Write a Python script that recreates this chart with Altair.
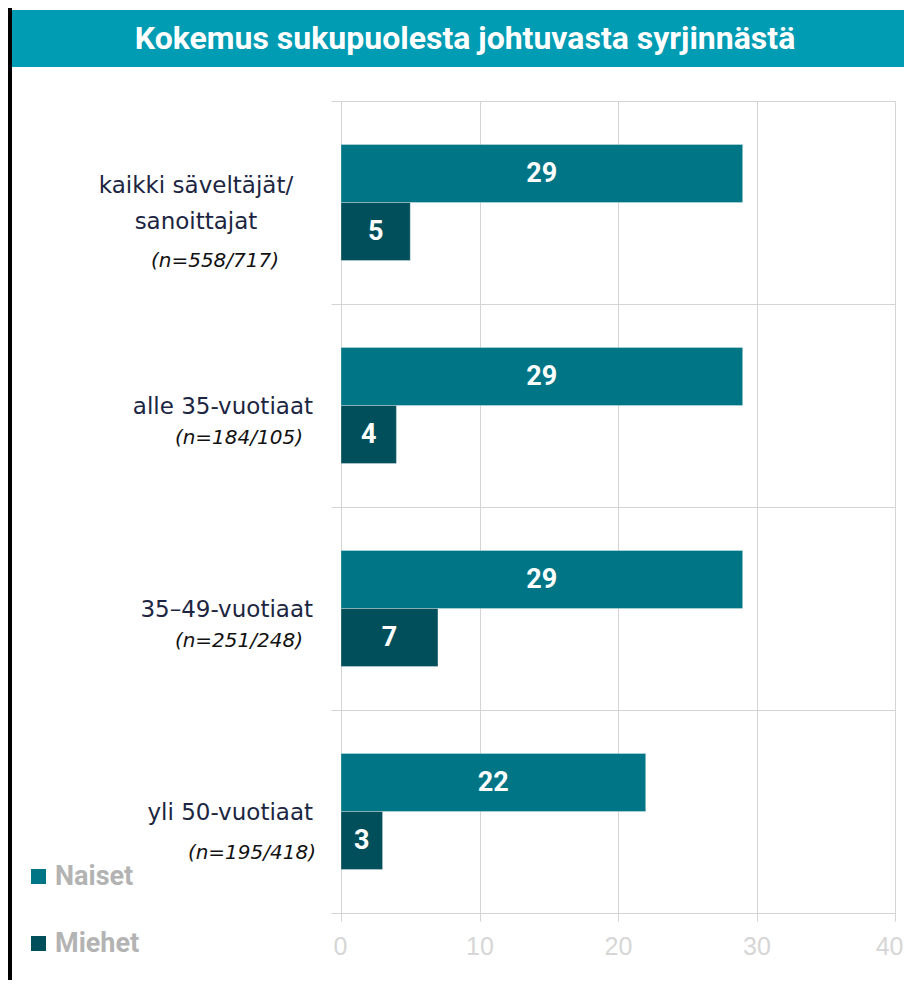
import altair as alt
import pandas as pd

title_text = "Kokemus sukupuolesta johtuvasta syrjinnästä"
categories = ["kaikki", "alle35", "35-49", "yli50"]
main_labels = [["kaikki säveltäjät/", "sanoittajat"], ["alle 35-vuotiaat"], ["35–49-vuotiaat"], ["yli 50-vuotiaat"]]
n_labels = ["(n=558/717)", "(n=184/105)", "(n=251/248)", "(n=195/418)"]
series = ["Naiset", "Miehet"]
naiset = [29, 29, 29, 22]
miehet = [5, 4, 7, 3]
x_ticks = [0, 10, 20, 30, 40]

colors = ["#007585", "#004f5a"]
TEAL = "#009cb4"
FONT = "Roboto"
LABFONT = "DejaVu Sans"

rows = []
for i, c in enumerate(categories):
    rows.append({"cat": c, "sukupuoli": "Naiset", "arvo": naiset[i]})
    rows.append({"cat": c, "sukupuoli": "Miehet", "arvo": miehet[i]})
df = pd.DataFrame(rows)

lab = pd.DataFrame({"cat": categories, "main": main_labels, "n": n_labels, "i": list(range(len(categories)))})

y_scale = alt.Scale(domain=categories, paddingInner=0, paddingOuter=0)
x_scale = alt.Scale(domain=[0, 40], nice=False)
yoff_scale = alt.Scale(domain=series, paddingInner=0, paddingOuter=0.75)

base = alt.Chart(df)

bars = base.mark_bar(stroke="white", strokeOpacity=0.3, strokeWidth=1).encode(
    x=alt.X("arvo:Q", scale=x_scale, axis=alt.Axis(
        values=x_ticks, title=None, grid=True, gridColor="#d4d4d4", domainColor="#d4d4d4",
        tickColor="#d4d4d4", tickSize=8, labelColor="#d6d6d6", labelFontSize=25,
        labelFont="Liberation Sans", labelPadding=13, labelFlush=True, labelFlushOffset=8)),
    y=alt.Y("cat:N", scale=y_scale, sort=categories, axis=alt.Axis(
        labels=False, title=None, tickBand="extent", grid=True, gridColor="#d4d4d4",
        domainColor="#d4d4d4", tickColor="#d4d4d4", tickSize=10)),
    yOffset=alt.YOffset("sukupuoli:N", scale=yoff_scale, sort=series),
    color=alt.Color("sukupuoli:N", sort=series, scale=alt.Scale(domain=series, range=colors),
                    legend=alt.Legend(orient="none", legendX=-316, legendY=762, title=None,
                                      symbolType="square", symbolSize=225, symbolStrokeWidth=0,
                                      labelFont=FONT, labelFontWeight="bold", labelFontSize=27,
                                      labelColor="#b3b3b3", rowPadding=39, labelOffset=3, padding=0)),
)

values = base.transform_calculate(mid="datum.arvo / 2").mark_text(
    color="white", font=FONT, fontWeight="bold", fontSize=27, baseline="middle", align="center"
).encode(
    x=alt.X("mid:Q", scale=x_scale),
    y=alt.Y("cat:N", scale=y_scale, sort=categories),
    yOffset=alt.YOffset("sukupuoli:N", scale=yoff_scale, sort=series),
    text=alt.Text("arvo:Q"),
)

lb = alt.Chart(lab)
ycat = alt.Y("cat:N", scale=y_scale, sort=categories)
LABCOL = "#1c2541"
main_first = lb.transform_filter("datum.i == 0").mark_text(
    font=LABFONT, fontSize=23, color=LABCOL, align="center", baseline="middle", lineHeight=36, dy=-17
).encode(x=alt.value(-145), y=ycat, text="main")
main_rest = lb.transform_filter("datum.i > 0").mark_text(
    font=LABFONT, fontSize=23, color=LABCOL, align="right", baseline="middle", dy=1
).encode(x=alt.value(-28), y=ycat, text="main")
n_first = lb.transform_filter("datum.i == 0").mark_text(
    font=LABFONT, fontSize=20, fontStyle="italic", color="#111111", align="center", baseline="middle", dy=58
).encode(x=alt.value(-126), y=ycat, text="n")
n_mid = lb.transform_filter("datum.i == 1 || datum.i == 2").mark_text(
    font=LABFONT, fontSize=20, fontStyle="italic", color="#111111", align="right", baseline="middle", dy=32
).encode(x=alt.value(-38), y=ycat, text="n")
n_last = lb.transform_filter("datum.i == 3").mark_text(
    font=LABFONT, fontSize=20, fontStyle="italic", color="#111111", align="right", baseline="middle", dy=41
).encode(x=alt.value(-25), y=ycat, text="n")

deco = alt.Chart(pd.DataFrame({"t": [title_text]}))
title_bar = deco.mark_rect(color=TEAL).encode(
    x=alt.value(-329), x2=alt.value(563), y=alt.value(-91), y2=alt.value(-34))
black_left = deco.mark_rect(color="black").encode(
    x=alt.value(-333), x2=alt.value(-329), y=alt.value(-93), y2=alt.value(890))
title = deco.mark_text(color="white", font=FONT, fontWeight="bold", fontSize=32,
                       align="center", baseline="middle").encode(
    x=alt.value(124), y=alt.value(-62), text="t:N")

chart = alt.layer(
    title_bar, black_left, title, bars, values,
    main_first, main_rest, n_first, n_mid, n_last
).properties(
    width=554, height=812,
    autosize=alt.AutoSizeParams(type="none"),
    padding={"left": 333, "top": 93, "right": 9, "bottom": 67},
).configure_view(stroke=None).configure(background="white")

chart.save("out.html", embed_options={"renderer": "svg", "actions": False})
